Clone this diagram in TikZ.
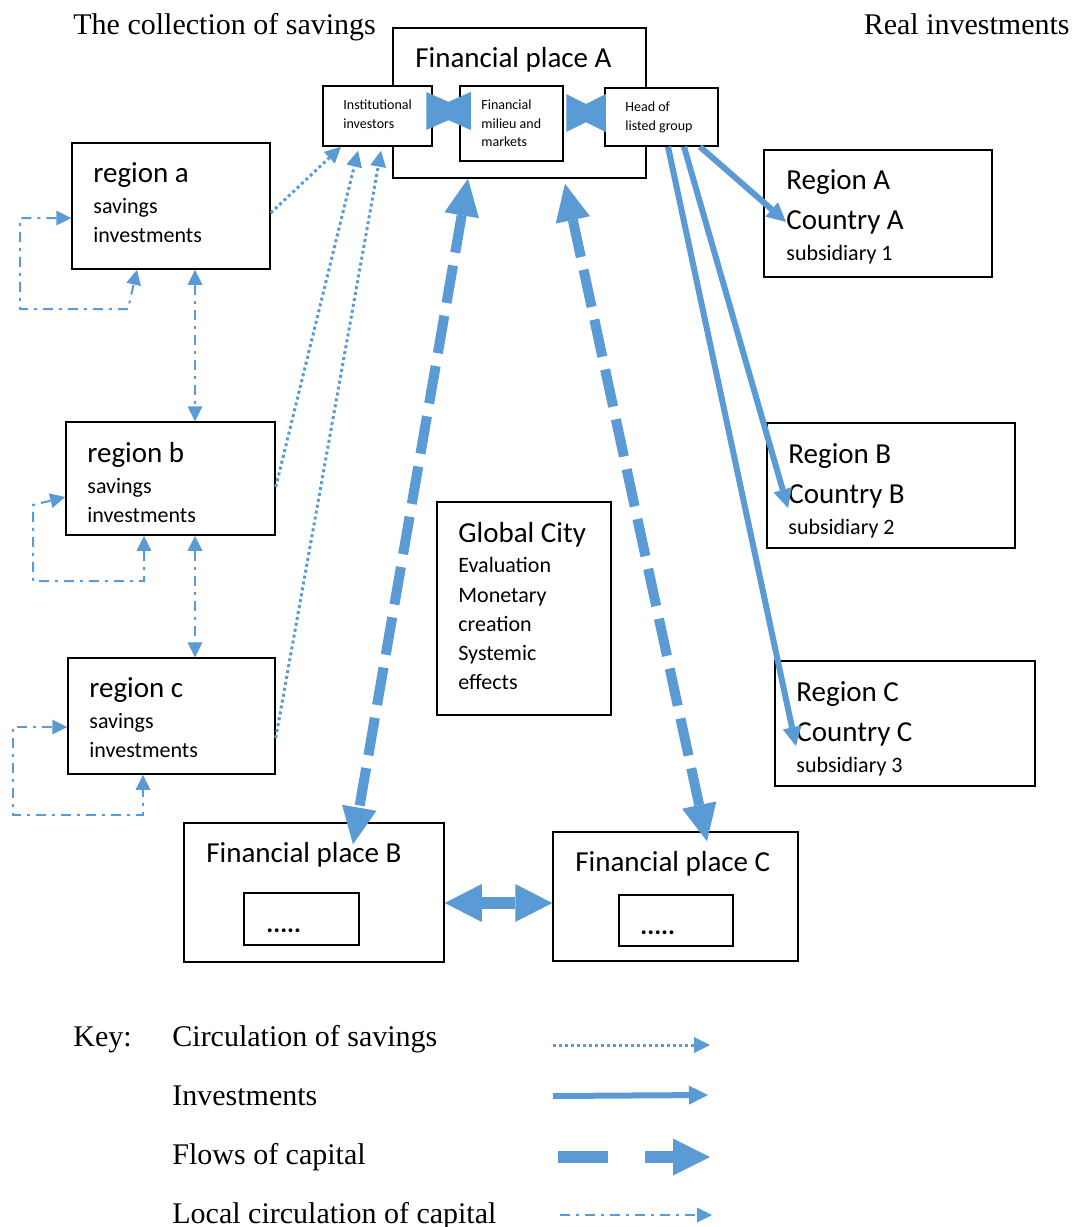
\documentclass[tikz,border=0pt]{standalone}
\usepackage{fontspec}
\setmainfont{Liberation Serif}
\newfontfamily\boxfont{Carlito}
\usetikzlibrary{arrows.meta, fit, calc, positioning}
\definecolor{flowblue}{HTML}{5B9BD5}

\tikzset{
  box/.style={draw, line width=0.75pt, inner sep=0pt},
  heading/.style={inner sep=0pt, font=\fontsize{15}{18}\selectfont},
  bigtxt/.style={anchor=base west, inner sep=0pt, font=\boxfont\fontsize{14.5}{17}\selectfont},
  smalltxt/.style={bigtxt, font=\boxfont\fontsize{11}{13}\selectfont},
  tinytxt/.style={bigtxt, font=\boxfont\fontsize{7}{8}\selectfont},
  savings/.style={flowblue, line width=1.5pt, dash pattern=on 1.5pt off 1.5pt,
    -{Triangle[length=8pt, width=8pt, line width=0pt]}},
  invest/.style={flowblue, line width=3pt,
    -{Triangle[length=9.5pt, width=9.5pt, line width=0pt]}},
  capital/.style={flowblue, line width=5pt, dash pattern=on 19pt off 6.5pt,
    >={Triangle[length=18.5pt, width=17.5pt, line width=0pt]}},
  twoway/.style={flowblue, line width=6pt,
    >={Triangle[length=18.5pt, width=19pt, line width=0pt]}, <->},
  bowtie/.style={flowblue, line width=0.2pt,
    -{Triangle[length=#1, width=19pt, line width=0pt]}},
  local/.style={flowblue, line width=1pt, dash pattern=on 5pt off 3pt on 1.5pt off 3pt,
    >={Triangle[length=7.5pt, width=7.5pt, line width=0pt]}},
}

\begin{document}
\begin{tikzpicture}[x=0.5pt, y=-0.5pt]
  \useasboundingbox (0,0) rectangle (1074,1227);

  % Headings
  \node[heading, anchor=base west] (hcoll) at (73,34) {The collection of savings};
  \node[heading, anchor=base east] (hreal) at (1070,34) {Real investments};

  % Financial place A
  \node[box, fit={(393,28) (646,178)}] (fpA) {};
  \node[bigtxt] (fpAt) at (415,67) {Financial place A};
  \node[box, fill=white, fit={(323,86) (432,146)}] (inst) {};
  \node[tinytxt] (inst1) at (343,109) {Institutional};
  \node[tinytxt] (inst2) at (343,128) {investors};
  \node[box, fill=white, fit={(460,86) (563,161)}] (fm) {};
  \node[tinytxt] (fm1) at (481,109) {Financial};
  \node[tinytxt] (fm2) at (481,128) {milieu and};
  \node[tinytxt] (fm3) at (481,146) {markets};
  \node[box, fill=white, fit={(605,88) (718,146)}] (hg) {};
  \node[tinytxt] (hg1) at (625,111) {Head of};
  \node[tinytxt] (hg2) at (625,130) {listed group};

  % Regions (savings side)
  \node[box, fit={(72,143) (270,269)}] (ra) {};
  \node[bigtxt] (ra1) at (93,182) {region a};
  \node[smalltxt] (ra2) at (93,213) {savings};
  \node[smalltxt] (ra3) at (93,242) {investments};
  \node[box, fit={(66,422) (275,535)}] (rb) {};
  \node[bigtxt] (rb1) at (87,462) {region b};
  \node[smalltxt] (rb2) at (87,493) {savings};
  \node[smalltxt] (rb3) at (87,522) {investments};
  \node[box, fit={(68,658) (275,774)}] (rc) {};
  \node[bigtxt] (rc1) at (89,697) {region c};
  \node[smalltxt] (rc2) at (89,728) {savings};
  \node[smalltxt] (rc3) at (89,757) {investments};

  % Regions (investment side)
  \node[box, fit={(764,150) (992,277)}] (rA) {};
  \node[bigtxt] (rA1) at (786,189) {Region A};
  \node[bigtxt] (cA) at (786,229) {Country A};
  \node[smalltxt] (rA3) at (786,260) {subsidiary 1};
  \node[box, fit={(767,423) (1015,548)}] (rB) {};
  \node[bigtxt] (rB1) at (788,463) {Region B};
  \node[bigtxt] (cB) at (788,503) {Country B};
  \node[smalltxt] (rB3) at (788,534) {subsidiary 2};
  \node[box, fit={(775,661) (1035,786)}] (rC) {};
  \node[bigtxt] (rC1) at (796,701) {Region C};
  \node[bigtxt] (cC) at (796,741) {Country C};
  \node[smalltxt] (rC3) at (796,772) {subsidiary 3};

  % Global City
  \node[box, fit={(437,502) (611,715)}] (gc) {};
  \node[bigtxt] (gc1) at (458,542) {Global City};
  \node[smalltxt] (gc2) at (458,572) {Evaluation};
  \node[smalltxt] (gc3) at (458,602) {Monetary};
  \node[smalltxt] (gc4) at (458,631) {creation};
  \node[smalltxt] (gc5) at (458,660) {Systemic};
  \node[smalltxt] (gc6) at (458,689) {effects};

  % Financial places B and C
  \node[box, fit={(184,823) (444,962)}] (fpB) {};
  \node[bigtxt] (fpBt) at (206,862) {Financial place B};
  \node[box, fit={(244,893) (359,945)}] (fpBi) {};
  \node[bigtxt, font=\boxfont\bfseries\fontsize{13}{15}\selectfont] (fpBd) at (266,932) {.....};
  \node[box, fit={(553,832) (798,961)}] (fpC) {};
  \node[bigtxt] (fpCt) at (575,871) {Financial place C};
  \node[box, fit={(619,895) (733,946)}] (fpCi) {};
  \node[bigtxt, font=\boxfont\bfseries\fontsize{13}{15}\selectfont] (fpCd) at (640,934) {.....};

  % Inside financial place A
  \coordinate (bt1l) at ($(inst.east |- 0,111)+(-5,0)$);
  \coordinate (bt1r) at ($(fm.west |- 0,111)+(10,0)$);
  \coordinate (bt2l) at ($(fm.east |- 0,113)+(4,0)$);
  \coordinate (bt2r) at (hg.west |- 0,113);
  \draw[bowtie=21.5pt] (bt1l) -- (bt1r);
  \draw[bowtie=21.5pt] (bt1r) -- (bt1l);
  \draw[bowtie=19pt] (bt2l) -- (bt2r);
  \draw[bowtie=19pt] (bt2r) -- (bt2l);

  % Circulation of savings
  \draw[savings] (ra.east |- 0,213) -- (inst.south -| 341,0);
  \draw[savings] (rb.east |- 0,487) -- ($(inst.south -| 358,0)+(0,4)$);
  \draw[savings] (rc.east |- 0,738) -- ($(inst.south -| 381,0)+(0,4)$);

  % Local circulation
  \draw[local, <->] (ra.west |- 0,218) -- (20,218) -- (20,309) -- (128,309) -- (ra.south -| 137,0);
  \draw[local, <->] (rb.west |- 0,497) -- (33,505) -- (33,581) -- (144,581) -- (rb.south -| 144,0);
  \draw[local, <->] (rc.west |- 0,727) -- (13,727) -- (13,815) -- (143,815) -- (rc.south -| 143,0);
  \draw[local, <->] (ra.south -| 195,0) -- (rb.north -| 195,0);
  \draw[local, <->] (rb.south -| 195,0) -- (rc.north -| 195,0);

  % Investments
  \draw[invest] (hg.south -| 700,0) -- (cA.west);
  \draw[invest] (hg.south -| 684,0) -- (cB.south west);
  \draw[invest] (hg.south -| 668,0) -- (cC.south west);

  % Flows of capital
  \draw[capital, <->] (fpA.south -| 468,0) -- ($(fpB.north -| 353,0)+(0,22)$);
  \draw[capital, <->] ($(fpA.south -| 565,0)+(0,5)$) -- ($(fpC.north -| 707,0)+(0,10)$);
  \draw[twoway] (fpB.east |- 0,903) -- (fpC.west |- 0,903);

  % Key
  \node[heading, anchor=base west] (key) at (73,1046) {Key:};
  \node[heading, anchor=base west] (key1) at (172,1046) {Circulation of savings};
  \node[heading, anchor=base west] (key2) at (172,1105) {Investments};
  \node[heading, anchor=base west] (key3) at (172,1164) {Flows of capital};
  \node[heading, anchor=base west] (key4) at (172,1223) {Local circulation of capital};
  \coordinate (k1a) at (553,1045);
  \coordinate (k1b) at (710,1045);
  \coordinate (k2a) at (553,1096);
  \coordinate (k2b) at (708,1095);
  \coordinate (k3a) at (558,1157);
  \coordinate (k3b) at (710,1157);
  \coordinate (k4a) at (560,1215);
  \coordinate (k4b) at (712,1215);
  \draw[savings] (k1a) -- (k1b);
  \draw[invest] (k2a) -- (k2b);
  \draw[capital, line width=6pt, dash pattern=on 25pt off 18.5pt,
    ->, >={Triangle[length=18.5pt, width=18.5pt, line width=0pt]}] (k3a) -- (k3b);
  \draw[local, ->] (k4a) -- (k4b);
\end{tikzpicture}
\end{document}
